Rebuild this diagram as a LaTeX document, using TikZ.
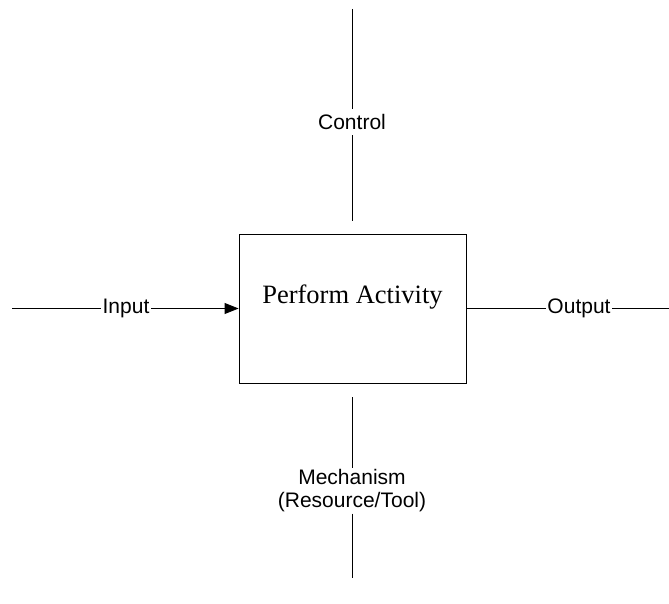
\documentclass[tikz,border=0pt]{standalone}
\usepackage{fontspec}
\setmainfont{Liberation Serif}
\newfontfamily\labelfont{Liberation Sans}
\usetikzlibrary{arrows.meta}

\begin{document}
\begin{tikzpicture}[x=1pt,y=-1pt,>={Triangle[length=14pt,width=11pt]},line width=0.8pt,
  lbl/.style={font=\labelfont\fontsize{21}{23}\selectfont,inner xsep=1.5pt,inner ysep=5pt,align=center},
  actbox/.style={draw,minimum width=227pt,minimum height=149pt,font=\fontsize{26.5}{30}\selectfont,text depth=28pt}]
		\useasboundingbox (0,0) rectangle (669,604);
		\node[actbox] (pa) at (352.5,308.5) {Perform Activity};
		\node[lbl] (ctl) at (352,122) {Control};
		\node[lbl] (inp) at (126,308.5) {Input};
		\node[lbl] (outp) at (579,308.5) {Output};
		\node[lbl,inner ysep=1pt] (mech) at (352,491) {Mechanism\\(Resource/Tool)};
		\coordinate (ctltop) at (352,9);
		\coordinate (ctlend) at (352,221);
		\coordinate (inpstart) at (12,308.5);
		\coordinate (outend) at (669,308.5);
		\coordinate (mechtop) at (352,397);
		\coordinate (mechend) at (352,578);

		\draw (ctltop) -- (ctl) -- (ctlend);
		\draw (inpstart) -- (inp);
		\draw[->] (inp) -- (pa.west);
		\draw (pa) -- (outp) -- (outend);
		\draw (mechtop) -- (mech) -- (mechend);
		\end{tikzpicture}
\end{document}
